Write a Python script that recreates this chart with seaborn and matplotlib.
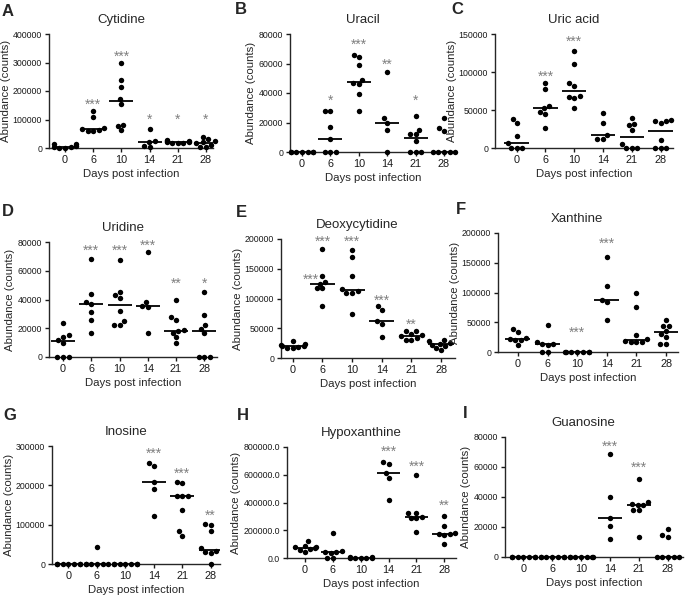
import warnings
import pandas as pd
import matplotlib
matplotlib.use('Agg')
import matplotlib.pyplot as plt
from matplotlib.ticker import FuncFormatter
import seaborn as sns

warnings.filterwarnings('ignore')

days = ['0', '6', '10', '14', '21', '28']

cytidine = [
    [14000, 13000, 7000, 3000, 1000, 1000, 2000],
    [131000, 108000, 70000, 65000, 62000, 60000, 58000],
    [300000, 239000, 213000, 173000, 155000, 82000, 78000, 64000],
    [67000, 24000, 22000, 8000, 3000],
    [27000, 25000, 23000, 21000, 21000, 19000, 18000, 17000],
    [40000, 30000, 24000, 20000, 18000, 12000, 4000, 3000],
]
uracil = [
    [0, 0, 0, 0, 0, 0, 0],
    [28000, 28000, 17000, 8800, 0, 0, 0],
    [66000, 64500, 59000, 49000, 46500, 46000, 39500, 27500],
    [54000, 23000, 20000, 15000, 0],
    [24500, 15000, 12500, 12000, 7500, 0, 0, 0],
    [23000, 16000, 14000, 0, 0, 0, 0, 0],
]
uric_acid = [
    [38000, 33000, 16000, 6000, 0, 0, 0],
    [86000, 77000, 55000, 52000, 47000, 45000, 26000],
    [127000, 110000, 85000, 81000, 68000, 67000, 66000, 52000],
    [46000, 33000, 17000, 12000, 12000],
    [39000, 31000, 30000, 24000, 5000, 0, 0, 0],
    [37000, 36000, 35000, 33000, 11000, 0, 0, 0],
]
uridine = [
    [23500, 15000, 14000, 12000, 10000, 0, 0, 0],
    [68000, 44000, 38000, 37000, 31000, 26000, 17000],
    [67500, 45000, 43000, 41000, 32000, 25000, 22500, 22500],
    [73000, 38500, 35500, 35000, 17000],
    [40000, 28000, 26000, 18500, 18000, 17000, 14000, 10000],
    [45000, 29000, 22000, 19500, 16500, 0, 0, 0],
]
deoxycytidine = [
    [28000, 24000, 22000, 21000, 20500, 19000, 17000, 16500],
    [184000, 138000, 127000, 125000, 117000, 117000, 88000],
    [181000, 170000, 138000, 116000, 113000, 110000, 110000, 74000],
    [87000, 81000, 62000, 57000, 36000],
    [46000, 45000, 41000, 38000, 37000, 34000, 31000, 30000],
    [30000, 28000, 25000, 23500, 22500, 20000, 16000, 14000],
]
xanthine = [
    [38000, 33000, 23000, 22000, 21000, 20000, 12000],
    [46000, 16000, 14000, 13000, 11000, 0, 0],
    [0, 0, 0, 0, 0, 0, 0],
    [160000, 111000, 88000, 84000, 54000],
    [100000, 75000, 29000, 22000, 19000, 17000, 16000, 16000],
    [54000, 44000, 43000, 36000, 30000, 26000, 13000, 13000],
]
inosine = [
    [0, 0, 0, 0, 0, 0, 0],
    [44000, 0, 0, 0, 0, 0, 0],
    [0, 0, 0, 0, 0, 0, 0],
    [258000, 250000, 208000, 190000, 122000],
    [208000, 205000, 172000, 172000, 172000, 138000, 83000, 72000],
    [101000, 98000, 83000, 40000, 33000, 30000, 28000, 0],
]
hypoxanthine = [
    [120000, 88000, 82000, 76000, 72000, 68000, 60000, 45000],
    [178000, 52000, 45000, 40000, 36000, 0, 0],
    [8000, 5000, 3000, 2000, 1000, 1000, 0],
    [690000, 680000, 615000, 580000, 420000],
    [595000, 325000, 325000, 292000, 290000, 285000, 185000],
    [305000, 230000, 180000, 175000, 172000, 165000, 100000],
]
guanosine = [
    [0, 0, 0, 0, 0, 0, 0],
    [0, 0, 0, 0, 0, 0, 0],
    [0, 0, 0, 0, 0, 0, 0],
    [69000, 40000, 26000, 20500, 12000],
    [52000, 36500, 35500, 35000, 35000, 31500, 31500, 13500],
    [19000, 14500, 13500, 0, 0, 0, 0, 0],
]

# significance marks: (category index, label, height in counts)
stars_a = [(1, '***', 163000), (2, '***', 332000), (3, '*', 108000), (4, '*', 108000), (5, '*', 108000)]
stars_b = [(1, '*', 36400), (2, '***', 74600), (3, '**', 61200), (4, '*', 36400)]
stars_c = [(1, '***', 97000), (2, '***', 143000)]
stars_d = [(1, '***', 75800), (2, '***', 75800), (3, '***', 79300), (4, '**', 52800), (5, '*', 52800)]
stars_e = [(0.6, '***', 137000), (1, '***', 200000), (2, '***', 200000), (3, '***', 100500), (4, '**', 61000)]
stars_f = [(2, '***', 38000), (3, '***', 186000)]
stars_g = [(3, '***', 287000), (4, '***', 238000), (5, '**', 131000)]
stars_h = [(3, '***', 790000), (4, '***', 679000), (5, '**', 400000)]
stars_i = [(3, '***', 75600), (4, '***', 61300)]

panels = [
    ('A', 'Cytidine', cytidine, stars_a, 400000, 100000),
    ('B', 'Uracil', uracil, stars_b, 80000, 20000),
    ('C', 'Uric acid', uric_acid, stars_c, 150000, 50000),
    ('D', 'Uridine', uridine, stars_d, 80000, 20000),
    ('E', 'Deoxycytidine', deoxycytidine, stars_e, 200000, 50000),
    ('F', 'Xanthine', xanthine, stars_f, 200000, 50000),
    ('G', 'Inosine', inosine, stars_g, 300000, 100000),
    ('H', 'Hypoxanthine', hypoxanthine, stars_h, 800000, 200000),
    ('I', 'Guanosine', guanosine, stars_i, 80000, 20000),
]

# layout in pixels: axes (left, right, top, bottom), x limits, panel letter (x, y)
W, H = 685, 602
axes_px = [
    (49, 213, 34, 148), (290, 456, 34, 152), (495, 673, 34, 148),
    (49, 217, 242, 357), (281, 455, 239, 358), (498, 678, 233, 352),
    (52, 220, 446, 564), (287, 456, 447, 558), (505, 683, 437, 557),
]
xlims = [
    (-0.57, 5.25), (-0.42, 5.42), (-0.75, 5.43),
    (-0.5, 5.45), (-0.4, 5.47), (-0.67, 5.4),
    (-0.58, 5.33), (-0.65, 5.42), (-0.63, 5.52),
]
letter_px = [(8, 12), (241, 10), (457, 10), (8, 212), (241, 213), (461, 210),
             (10, 415), (243, 415), (465, 413)]


def to_frame(groups):
    rows = []
    for day, vals in zip(days, groups):
        for v in vals:
            rows.append({'day': day, 'value': v})
    return pd.DataFrame(rows)


def draw_panel(fig, i, letter, title, groups, stars, ymax, ystep):
    left, right, top, bottom = axes_px[i]
    ax = fig.add_axes([left / W, 1 - bottom / H, (right - left) / W, (bottom - top) / H])
    df = to_frame(groups)

    # median bar only
    sns.boxplot(data=df, x='day', y='value', order=days, ax=ax,
                showbox=False, showcaps=False, showfliers=False,
                whiskerprops={'visible': False},
                medianprops={'color': 'black', 'linewidth': 1.3},
                width=0.85)
    sns.swarmplot(data=df, x='day', y='value', order=days, ax=ax,
                  color='black', size=3.9, zorder=3)
    for c in ax.collections:
        c.set_clip_on(False)

    ax.set_xlim(*xlims[i])
    ax.set_ylim(0, ymax)
    ax.set_yticks(range(0, ymax + 1, ystep))
    if letter == 'H':
        ax.yaxis.set_major_formatter(FuncFormatter(lambda v, p: f'{v:.1f}'))
    else:
        ax.yaxis.set_major_formatter(FuncFormatter(lambda v, p: f'{v:.0f}'))

    for xpos, label, yval in stars:
        ax.annotate(label, (xpos, yval), xytext=(0, -5), textcoords='offset points',
                    ha='center', va='baseline', fontsize=10, color='#808080',
                    annotation_clip=False)

    sns.despine(ax=ax)
    for s in ['left', 'bottom']:
        ax.spines[s].set_linewidth(1.0)
    ax.tick_params(axis='both', length=3, width=1.0, pad=2, colors='#1a1a1a')
    ax.tick_params(axis='y', labelsize=6.3)
    ax.tick_params(axis='x', labelsize=7.8)
    ax.set_xlabel('Days post infection', fontsize=8.2, labelpad=3)
    ax.set_ylabel('Abundance (counts)', fontsize=8.2, labelpad=1.5)
    ax.set_title(title, fontsize=9.5, pad=8)
    ax.title.set_x(0.44)

    lx, ly = letter_px[i]
    fig.text(lx / W, 1 - ly / H, letter, fontsize=12, fontweight='bold',
             ha='center', va='center')
    return ax


sns.set_style('ticks')
plt.rcParams['font.family'] = ['Liberation Sans', 'DejaVu Sans']

fig = plt.figure(figsize=(W / 100, H / 100), dpi=100)
for i, (letter, title, groups, stars, ymax, ystep) in enumerate(panels):
    draw_panel(fig, i, letter, title, groups, stars, ymax, ystep)

fig.savefig('out.png', dpi=100)
